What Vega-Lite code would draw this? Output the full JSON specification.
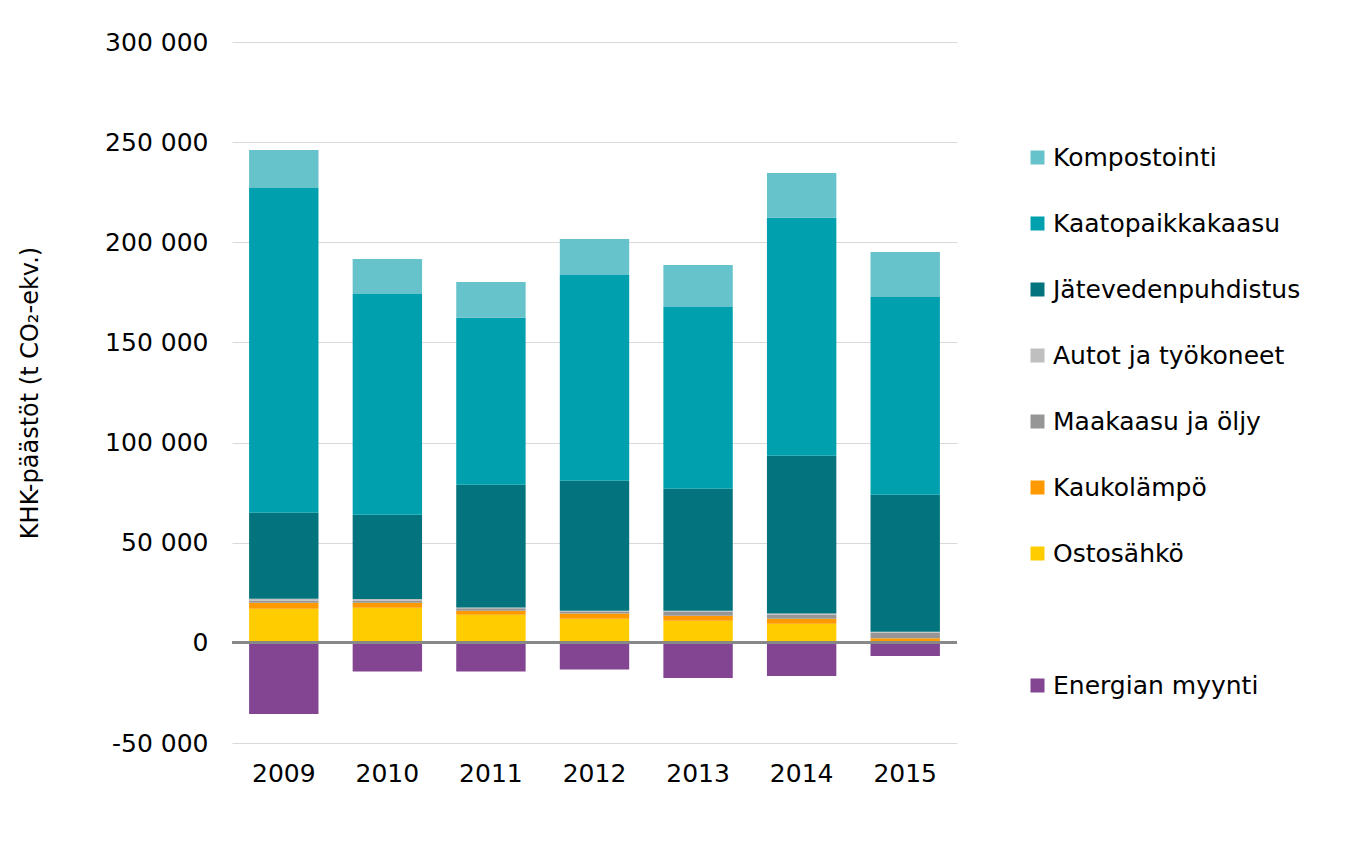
{
  "$schema": "https://vega.github.io/schema/vega-lite/v6.json",
  "autosize": "none",
  "width": 725,
  "height": 701,
  "padding": {"left": 232, "top": 42, "right": 393, "bottom": 102},
  "background": "white",
  "config": {
    "locale": {"number": {"decimal": ",", "thousands": " ", "grouping": [3], "currency": ["", " €"], "minus": "-"}},
    "view": {"stroke": null},
    "font": "DejaVu Sans"
  },
  "data": {
    "values": [
      {"year": "2009", "source": "Ostosähkö", "value": 17000},
      {"year": "2009", "source": "Kaukolämpö", "value": 3000},
      {"year": "2009", "source": "Maakaasu ja öljy", "value": 1200},
      {"year": "2009", "source": "Autot ja työkoneet", "value": 800},
      {"year": "2009", "source": "Jätevedenpuhdistus", "value": 42900},
      {"year": "2009", "source": "Kaatopaikkakaasu", "value": 162200},
      {"year": "2009", "source": "Kompostointi", "value": 19000},
      {"year": "2009", "source": "Energian myynti", "value": -35500},
      {"year": "2010", "source": "Ostosähkö", "value": 17500},
      {"year": "2010", "source": "Kaukolämpö", "value": 2500},
      {"year": "2010", "source": "Maakaasu ja öljy", "value": 1100},
      {"year": "2010", "source": "Autot ja työkoneet", "value": 800},
      {"year": "2010", "source": "Jätevedenpuhdistus", "value": 42000},
      {"year": "2010", "source": "Kaatopaikkakaasu", "value": 110300},
      {"year": "2010", "source": "Kompostointi", "value": 17500},
      {"year": "2010", "source": "Energian myynti", "value": -14300},
      {"year": "2011", "source": "Ostosähkö", "value": 14000},
      {"year": "2011", "source": "Kaukolämpö", "value": 2000},
      {"year": "2011", "source": "Maakaasu ja öljy", "value": 1300},
      {"year": "2011", "source": "Autot ja työkoneet", "value": 300},
      {"year": "2011", "source": "Jätevedenpuhdistus", "value": 61300},
      {"year": "2011", "source": "Kaatopaikkakaasu", "value": 83400},
      {"year": "2011", "source": "Kompostointi", "value": 17900},
      {"year": "2011", "source": "Energian myynti", "value": -14300},
      {"year": "2012", "source": "Ostosähkö", "value": 12000},
      {"year": "2012", "source": "Kaukolämpö", "value": 2700},
      {"year": "2012", "source": "Maakaasu ja öljy", "value": 1000},
      {"year": "2012", "source": "Autot ja työkoneet", "value": 350},
      {"year": "2012", "source": "Jätevedenpuhdistus", "value": 64850},
      {"year": "2012", "source": "Kaatopaikkakaasu", "value": 102800},
      {"year": "2012", "source": "Kompostointi", "value": 18000},
      {"year": "2012", "source": "Energian myynti", "value": -13300},
      {"year": "2013", "source": "Ostosähkö", "value": 11000},
      {"year": "2013", "source": "Kaukolämpö", "value": 2500},
      {"year": "2013", "source": "Maakaasu ja öljy", "value": 2200},
      {"year": "2013", "source": "Autot ja työkoneet", "value": 350},
      {"year": "2013", "source": "Jätevedenpuhdistus", "value": 60850},
      {"year": "2013", "source": "Kaatopaikkakaasu", "value": 90800},
      {"year": "2013", "source": "Kompostointi", "value": 21000},
      {"year": "2013", "source": "Energian myynti", "value": -17500},
      {"year": "2014", "source": "Ostosähkö", "value": 9500},
      {"year": "2014", "source": "Kaukolämpö", "value": 2500},
      {"year": "2014", "source": "Maakaasu ja öljy", "value": 2200},
      {"year": "2014", "source": "Autot ja työkoneet", "value": 500},
      {"year": "2014", "source": "Jätevedenpuhdistus", "value": 78700},
      {"year": "2014", "source": "Kaatopaikkakaasu", "value": 118800},
      {"year": "2014", "source": "Kompostointi", "value": 22400},
      {"year": "2014", "source": "Energian myynti", "value": -16500},
      {"year": "2015", "source": "Ostosähkö", "value": 300},
      {"year": "2015", "source": "Kaukolämpö", "value": 2000},
      {"year": "2015", "source": "Maakaasu ja öljy", "value": 2700},
      {"year": "2015", "source": "Autot ja työkoneet", "value": 500},
      {"year": "2015", "source": "Jätevedenpuhdistus", "value": 68400},
      {"year": "2015", "source": "Kaatopaikkakaasu", "value": 98800},
      {"year": "2015", "source": "Kompostointi", "value": 22500},
      {"year": "2015", "source": "Energian myynti", "value": -6500}
    ]
  },
  "layer": [
    {
      "transform": [
        {"calculate": "indexof(['Energian myynti', 'Ostosähkö', 'Kaukolämpö', 'Maakaasu ja öljy', 'Autot ja työkoneet', 'Jätevedenpuhdistus', 'Kaatopaikkakaasu', 'Kompostointi'], datum.source)", "as": "stackorder"}
      ],
      "mark": {"type": "bar"},
      "encoding": {
        "x": {
          "field": "year", "type": "nominal",
          "scale": {"paddingInner": 0.33, "paddingOuter": 0.165},
          "axis": {"title": null, "labelAngle": 0, "labelFontSize": 25, "labelColor": "#000000", "labelPadding": 18, "ticks": false, "domain": false}
        },
        "y": {
          "field": "value", "type": "quantitative", "stack": "zero",
          "scale": {"domain": [-50000, 300000], "nice": false},
          "axis": {
            "title": "KHK-päästöt (t CO₂-ekv.)", "titleFontSize": 24, "titleFontWeight": "normal", "titleColor": "#000000", "titlePadding": 62,
            "values": [-50000, 0, 50000, 100000, 150000, 200000, 250000, 300000],
            "format": ",d", "labelFontSize": 25, "labelColor": "#000000", "labelPadding": 24,
            "ticks": false, "domain": false, "grid": true, "gridColor": "#d9d9d9", "gridWidth": 1
          }
        },
        "order": {"field": "stackorder", "type": "quantitative", "sort": "ascending"},
        "color": {
          "field": "source", "type": "nominal",
          "scale": {
            "domain": ["Kompostointi", "Kaatopaikkakaasu", "Jätevedenpuhdistus", "Autot ja työkoneet", "Maakaasu ja öljy", "Kaukolämpö", "Ostosähkö", " ", "Energian myynti"],
            "range": ["#66C2CB", "#00A0AF", "#03737D", "#BFBFBF", "#969696", "#FF9900", "#FFCC00", "#FFFFFF", "#834592"]
          },
          "legend": {
            "title": null, "orient": "none", "legendX": 793, "legendY": 103, "padding": 0,
            "symbolType": "square", "symbolSize": 196, "symbolStrokeWidth": 0, "symbolOpacity": 1,
            "labelFontSize": 25, "labelColor": "#000000", "labelOffset": 3, "labelLimit": 400,
            "rowPadding": 40
          }
        }
      }
    },
    {
      "mark": {"type": "rule", "color": "#888888", "strokeWidth": 2},
      "encoding": {"y": {"datum": 0, "type": "quantitative"}}
    }
  ]
}
